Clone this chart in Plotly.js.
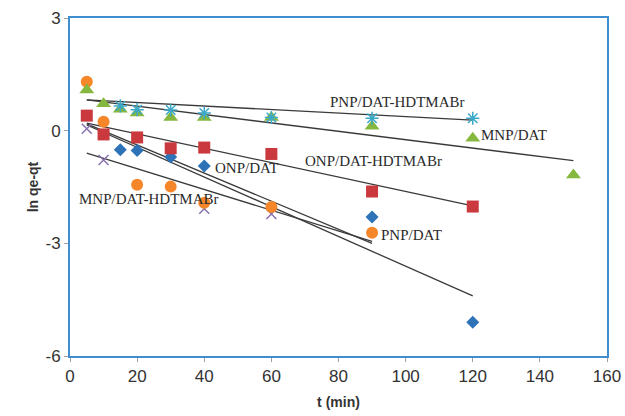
<!DOCTYPE html>
<html><head><meta charset="utf-8">
<script src="https://cdn.plot.ly/plotly-3.0.1.min.js"></script>
<style>html,body{margin:0;padding:0;background:#fff}#c{width:625px;height:416px}</style>
</head><body><div id="c"></div>
<script>
// Data
var mnpDatX = [5, 10, 15, 20, 30, 40, 60, 90, 120, 150];
var mnpDatY = [1.08, 0.72, 0.57, 0.47, 0.35, 0.35, 0.35, 0.12, -0.2, -1.18];

var pnpHdX = [15, 20, 30, 40, 60, 90, 120];
var pnpHdY = [0.66, 0.56, 0.55, 0.47, 0.35, 0.33, 0.33];

var onpHdX = [5, 10, 20, 30, 40, 60, 90, 120];
var onpHdY = [0.4, -0.1, -0.18, -0.47, -0.45, -0.62, -1.62, -2.02];

var onpDatX = [15, 20, 30, 40, 90, 120];
var onpDatY = [-0.51, -0.53, -0.7, -0.94, -2.3, -5.1];

var pnpDatX = [5, 10, 20, 30, 40, 60, 90];
var pnpDatY = [1.3, 0.24, -1.44, -1.49, -1.92, -2.03, -2.72];

var mnpHdX = [5, 10, 40, 60];
var mnpHdY = [0.05, -0.78, -2.08, -2.22];

// Trend line end points
var fitPnpHdX = [5, 120],  fitPnpHdY = [0.82, 0.28];
var fitMnpDatX = [5, 150], fitMnpDatY = [0.82, -0.8];
var fitOnpHdX = [5, 120],  fitOnpHdY = [0.2, -2.0];
var fitOnpDatX = [5, 120], fitOnpDatY = [0.15, -4.4];
var fitPnpDatX = [5, 90],  fitPnpDatY = [0.18, -3.0];
var fitMnpHdX = [5, 90],   fitMnpHdY = [-0.6, -2.95];

var xTicks = [0, 20, 40, 60, 80, 100, 120, 140, 160];
var yTicks = [-6, -3, 0, 3];

// Labels
var labelText = ["PNP/DAT-HDTMABr", "MNP/DAT", "ONP/DAT-HDTMABr", "ONP/DAT", "MNP/DAT-HDTMABr", "PNP/DAT"];
var labelX = [97.3, 121.8, 90.3, 42.5, 23.4, 92.2];
var labelY = [0.77, -0.12, -0.82, -1.0, -1.82, -2.77];
var labelAnchor = ["center", "left", "center", "left", "center", "left"];

var lineStyle = {color: '#3a3a3a', width: 1.3};
function fit(x, y) {
  return {x: x, y: y, mode: 'lines', line: lineStyle, hoverinfo: 'skip', showlegend: false};
}
function pts(x, y, marker) {
  return {x: x, y: y, mode: 'markers', marker: marker, showlegend: false};
}

var traces = [
  fit(fitPnpHdX, fitPnpHdY),
  fit(fitMnpDatX, fitMnpDatY),
  fit(fitOnpHdX, fitOnpHdY),
  fit(fitOnpDatX, fitOnpDatY),
  fit(fitPnpDatX, fitPnpDatY),
  fit(fitMnpHdX, fitMnpHdY),
  pts(mnpHdX, mnpHdY, {symbol: 'x-thin-open', size: 10, color: '#8a72b0', line: {color: '#8a72b0', width: 1.5}}),
  pts(onpDatX, onpDatY, {symbol: 'diamond', size: 10, color: '#2e72b8'}),
  pts(onpHdX, onpHdY, {symbol: 'square', size: 12, color: '#c9393d'}),
  pts(pnpDatX, pnpDatY, {symbol: 'circle', size: 12, color: '#f5862a'}),
  pts(mnpDatX, mnpDatY, {symbol: 'triangle-up', size: 13, color: '#86b73e'}),
  pts(pnpHdX, pnpHdY, {symbol: 'asterisk-open', size: 11, color: '#3aa8c8', line: {color: '#3aa8c8', width: 1.5}})
];

var annotations = labelText.map(function (t, i) {
  return {x: labelX[i], y: labelY[i], text: t, showarrow: false, xanchor: labelAnchor[i], yanchor: 'middle',
    font: {family: 'Liberation Serif, Times New Roman, serif', size: 15, color: '#2a2a2a'}};
});

var axisCommon = {
  showgrid: false, zeroline: false, showline: true, linecolor: '#3f8fd0', linewidth: 2, mirror: true,
  ticks: 'outside', ticklen: 4, tickcolor: '#a0a0a0',
  tickfont: {family: 'Liberation Sans, Arial, sans-serif', size: 17, color: '#333'}
};

var layout = {
  width: 625, height: 416,
  margin: {l: 70, r: 18, t: 18, b: 60},
  paper_bgcolor: '#fff', plot_bgcolor: '#fff',
  showlegend: false,
  xaxis: Object.assign({}, axisCommon, {
    range: [0, 160], tickvals: xTicks, ticktext: xTicks.map(String),
    title: {text: '<b>t (min)</b>', standoff: 12, font: {family: 'Liberation Sans, Arial, sans-serif', size: 14, color: '#333'}}
  }),
  yaxis: Object.assign({}, axisCommon, {
    range: [-6, 3], tickvals: yTicks, ticktext: yTicks.map(String),
    title: {text: '<b>ln qe-qt</b>', standoff: 4, font: {family: 'Liberation Sans, Arial, sans-serif', size: 14, color: '#333'}}
  }),
  annotations: annotations
};

Plotly.newPlot('c', traces, layout, {displayModeBar: false, staticPlot: true});
</script>
</body></html>
